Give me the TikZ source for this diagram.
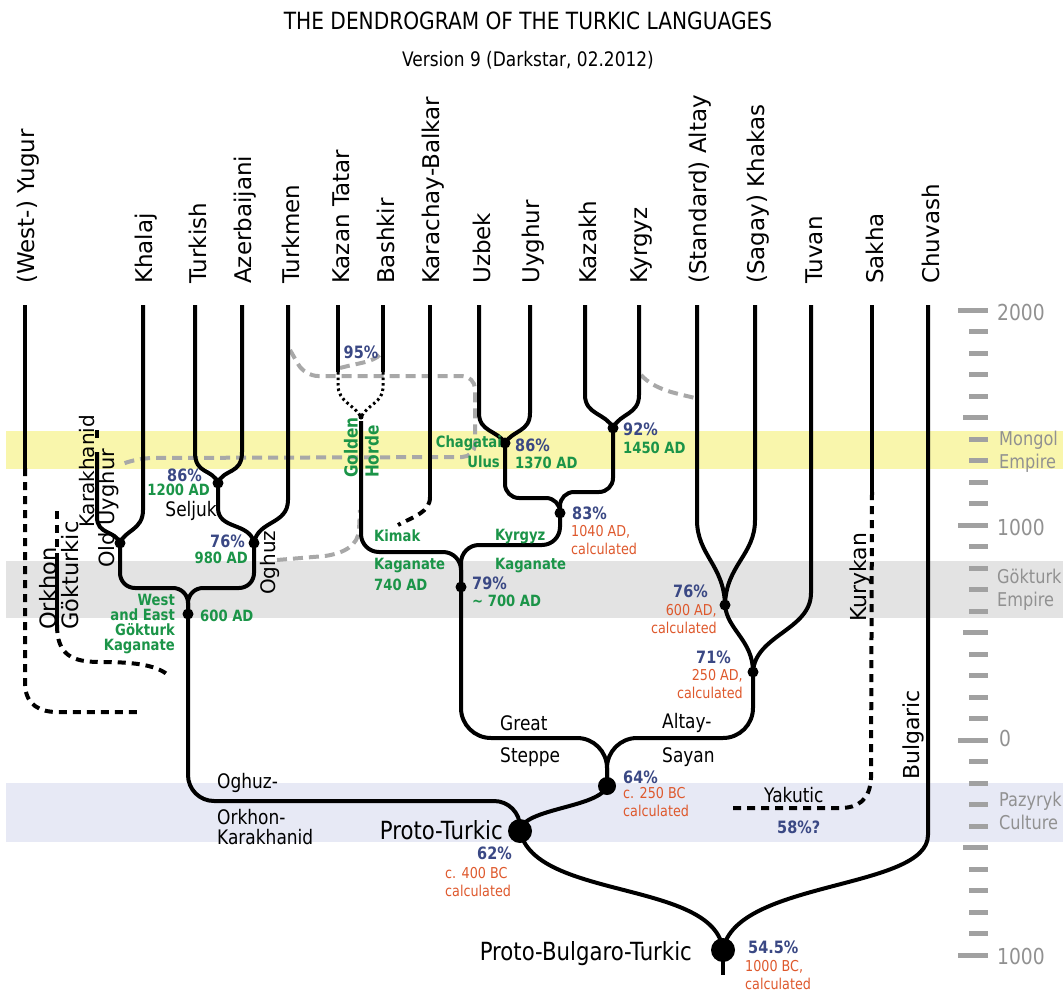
\documentclass[tikz,border=0pt]{standalone}
\usepackage{fontspec}
\setmainfont{DejaVu Sans}
\newfontfamily\narrowfont[FakeStretch=0.85]{DejaVu Sans}
\usepackage{tikz}
\usetikzlibrary{positioning,calc}
\definecolor{pctblue}{RGB}{58,72,132}
\definecolor{dategreen}{RGB}{27,148,72}
\definecolor{calcorange}{RGB}{222,88,44}
\definecolor{mongolyellow}{RGB}{249,246,172}
\definecolor{gokturkgray}{RGB}{227,227,227}
\definecolor{pazyrykblue}{RGB}{231,233,245}
\definecolor{contactgray}{RGB}{168,168,168}
\definecolor{scalegray}{RGB}{145,145,145}
\tikzset{
  lang/.style={rotate=90, anchor=west, inner sep=0pt, font=\fontsize{23}{23}\selectfont},
  sublang/.style={rotate=90, anchor=west, inner sep=0pt, font=\fontsize{22}{22}\selectfont},
  branch/.style={line width=4pt, black},
  lost/.style={line width=4pt, black, dash pattern=on 8pt off 6pt},
  horde/.style={line width=3pt, black, dash pattern=on 2.5pt off 3pt},
  contact/.style={line width=4pt, contactgray, dash pattern=on 10pt off 6pt},
  dot/.style={circle, fill=black, inner sep=0pt, minimum size=11pt},
  pct/.style={font=\narrowfont\bfseries\fontsize{17}{17}\selectfont, text=pctblue, inner sep=0pt},
  datelbl/.style={font=\narrowfont\bfseries\fontsize{15.5}{15}\selectfont, text=dategreen, inner sep=0pt},
  calcd/.style={font=\narrowfont\fontsize{15}{18}\selectfont, text=calcorange, inner sep=0pt, align=left},
  grouplbl/.style={font=\narrowfont\fontsize{20}{20}\selectfont, inner sep=0pt},
  protolbl/.style={font=\narrowfont\fontsize{25}{25}\selectfont, inner sep=0pt},
  eralbl/.style={font=\narrowfont\fontsize{19}{23}\selectfont, text=scalegray, inner sep=0pt, align=left, anchor=west},
  yearlbl/.style={font=\narrowfont\fontsize{22}{22}\selectfont, text=scalegray, inner sep=0pt, anchor=west},
  yeartick/.style={line width=5pt, scalegray!85}
}

\begin{document}
\begin{tikzpicture}[x=1pt, y=-1pt]
\useasboundingbox (0,0) rectangle (1063,996);
\fill[mongolyellow] (6,431) rectangle (1063,469);
\fill[gokturkgray] (6,561) rectangle (1063,618);
\fill[pazyrykblue] (6,783) rectangle (1063,842);

\foreach \i in {0,...,30}{
  \pgfmathsetmacro{\tl}{ifthenelse(mod(\i,10)==0,30,ifthenelse(mod(\i,5)==0,25,19))}
  \draw[yeartick] ({988-\tl},{310+21.5*\i}) -- ({988},{310+21.5*\i});
}
\node[yearlbl] (y2000) at (997,312) {2000};
\node[yearlbl] (y1000) at (997,527) {1000};
\node[yearlbl] (y0) at (999,738) {0};
\node[yearlbl] (ybc1000) at (997,956) {1000};
\node[eralbl] (mongol) at (999,451.5) {Mongol\\Empire};
\node[eralbl] (gokturkemp) at (997,590) {Gökturk\\Empire};
\node[eralbl] (pazyryk) at (999,811) {Pazyryk\\Culture};

\node[font=\narrowfont\fontsize{23.7}{24}\selectfont] (title) at (528,21) {THE DENDROGRAM OF THE TURKIC LANGUAGES};
\node[font=\narrowfont\fontsize{20}{20}\selectfont, below=14pt of title] (version) {Version 9 (Darkstar, 02.2012)};

\coordinate (yugur) at (25,305);
\coordinate (khalaj) at (143,305);
\coordinate (turkish) at (195,305);
\coordinate (azerbaijani) at (242,305);
\coordinate (turkmen) at (288,305);
\coordinate (kazantatar) at (338,305);
\coordinate (bashkir) at (383,305);
\coordinate (karachay) at (430,305);
\coordinate (uzbek) at (479,305);
\coordinate (uyghur) at (530,305);
\coordinate (kazakh) at (585,305);
\coordinate (kyrgyz) at (639,305);
\coordinate (altay) at (697,305);
\coordinate (khakas) at (755,305);
\coordinate (tuvan) at (811,305);
\coordinate (sakha) at (872,305);
\coordinate (chuvash) at (928,305);
\coordinate (karakhanid) at (97,452);
\coordinate (orkhon) at (57,511);
\coordinate (kimak) at (361,421);
\coordinate (pbtroot) at (723,975);

\node[lang] (lyugur) at (28,284) {(West-) Yugur};
\node[lang] (lkhalaj) at (146,284) {Khalaj};
\node[lang] (lturkish) at (198,284) {Turkish};
\node[lang] (lazerbaijani) at (245,284) {Azerbaijani};
\node[lang] (lturkmen) at (291,284) {Turkmen};
\node[lang] (lkazantatar) at (341,284) {Kazan Tatar};
\node[lang] (lbashkir) at (386,284) {Bashkir};
\node[lang] (lkarachay) at (433,284) {Karachay-Balkar};
\node[lang] (luzbek) at (482,284) {Uzbek};
\node[lang] (luyghur) at (533,284) {Uyghur};
\node[lang] (lkazakh) at (588,284) {Kazakh};
\node[lang] (lkyrgyz) at (642,284) {Kyrgyz};
\node[lang] (laltay) at (700,284) {(Standard) Altay};
\node[lang] (lkhakas) at (758,284) {(Sagay) Khakas};
\node[lang] (ltuvan) at (814,284) {Tuvan};
\node[lang] (lsakha) at (875,284) {Sakha};
\node[lang] (lchuvash) at (931,284) {Chuvash};

\node[dot] (seljuk) at (218,483) {};
\node[dot] (oghuz) at (254,543) {};
\node[dot] (olduyghur) at (120,543) {};
\node[dot] (gokturk) at (188,614) {};
\node[dot] (chagatai) at (505,443) {};
\node[dot] (kipchak) at (613,428) {};
\node[dot] (kyrgyzkag) at (560,513) {};
\node[dot] (kimakkag) at (461,587) {};
\node[dot] (sayan) at (725,605) {};
\node[dot] (altaysayan) at (753,672) {};
\node[dot, minimum size=18pt] (steppe) at (607,786) {};
\node[dot, minimum size=24pt] (proto) at (520,831) {};
\node[dot, minimum size=24pt] (pbt) at (723,950) {};
\node[dot, minimum size=5pt] (horde) at (361,417) {};

\coordinate (tkmcontact) at (290,350);
\coordinate (oucontact) at (122,464);
\coordinate (tatcontact) at (340,368);
\coordinate (bashcontact) at (383,350);
\coordinate (oghcontact) at (277,560);
\coordinate (kimcontact) at (360,510);
\coordinate (kyrcontact) at (641,375);
\coordinate (altcontact) at (695,398);
\draw[contact, rounded corners=13pt] (tkmcontact) -- (305,376) -- (475,376) -- (475,457) -- (140,458) -- (oucontact);
\draw[contact] (tatcontact) .. controls (362,362) and (378,362) .. (bashcontact);
\draw[contact] (oghcontact) -- (325,556) .. controls (345,553) and (358,545) .. (359,530) -- (kimcontact);
\draw[contact] (kyrcontact) .. controls (655,390) and (675,393) .. (altcontact);

\draw[branch] (turkish) -- (195,452) .. controls (195,475) and (212,468) .. (seljuk.center);
\draw[branch] (azerbaijani) -- (242,452) .. controls (242,475) and (224,468) .. (seljuk.center);
\draw[branch] (seljuk.center) -- (218,508) .. controls (218,530) and (250,522) .. (oghuz.center);
\draw[branch] (turkmen) -- (288,500) .. controls (288,525) and (258,520) .. (oghuz.center);
\draw[branch] (karakhanid) -- (97,517) .. controls (97,535) and (115,530) .. (olduyghur.center);
\draw[branch] (97,430) -- (97,438);
\draw[branch] (khalaj) -- (143,510) .. controls (143,530) and (125,530) .. (olduyghur.center);
\draw[branch, rounded corners=15pt] (olduyghur.center) |- (188,588) -- (gokturk.center);
\draw[branch, rounded corners=15pt] (oghuz.center) |- (188,588) -- (gokturk.center);
\draw[branch, rounded corners=26pt] (gokturk.center) |- (520,801) -- (proto.center);
\draw[branch] (proto.center) .. controls (522,808) and (600,808) .. (steppe.center);
\draw[branch, rounded corners=30pt] (kimakkag.center) |- (607,738) -- (steppe.center);
\draw[branch, rounded corners=30pt] (altaysayan.center) |- (607,738) -- (steppe.center);
\draw[branch] (proto.center) .. controls (535,900) and (715,880) .. (pbt.center);
\draw[branch] (chuvash) -- (928,835) .. controls (928,890) and (735,880) .. (pbt.center);
\draw[branch] (pbt.center) -- (pbtroot);

\draw[branch] (kazantatar) -- (338,372);
\draw[horde] (338,372) -- (338,385) .. controls (338,402) and (355,405) .. (horde.center);
\draw[branch] (bashkir) -- (383,372);
\draw[horde] (383,372) -- (383,388) .. controls (383,402) and (367,405) .. (horde.center);
\draw[branch, rounded corners=18pt] (kimak) |- (461,552) -- (kimakkag.center);
\draw[branch, rounded corners=18pt] (kyrgyzkag.center) |- (461,545) -- (kimakkag.center);
\draw[branch] (uzbek) -- (479,413) .. controls (479,432) and (497,430) .. (chagatai.center);
\draw[branch] (uyghur) -- (530,413) .. controls (530,432) and (513,430) .. (chagatai.center);
\draw[branch] (kazakh) -- (585,395) .. controls (585,415) and (606,413) .. (kipchak.center);
\draw[branch] (kyrgyz) -- (639,395) .. controls (639,415) and (620,413) .. (kipchak.center);
\draw[branch, rounded corners=14pt] (chagatai.center) |- (560,498) -- (kyrgyzkag.center);
\draw[branch, rounded corners=14pt] (kipchak.center) |- (560,492) -- (kyrgyzkag.center);

\draw[branch] (altay) -- (697,520) .. controls (697,555) and (724,565) .. (sayan.center);
\draw[branch] (khakas) -- (755,520) .. controls (755,555) and (726,565) .. (sayan.center);
\draw[branch] (sayan.center) .. controls (727,630) and (753,640) .. (altaysayan.center);
\draw[branch] (tuvan) -- (811,593) .. controls (811,630) and (755,635) .. (altaysayan.center);

\coordinate (yugurend) at (138,712);
\coordinate (orkhonend) at (168,675);
\coordinate (kimakend) at (398,525);
\coordinate (yakuticend) at (731,808);
\draw[branch] (yugur) -- (25,468);
\draw[lost] (25,468) -- (25,685) .. controls (26,705) and (40,712) .. (57,712) -- (yugurend);
\draw[lost] (orkhon) -- (57,555);
\draw[branch] (57,555) -- (57,625);
\draw[lost] (57,625) .. controls (57,655) and (72,662) .. (100,662) .. controls (130,662) and (155,664) .. (orkhonend);
\draw[branch] (karachay) -- (430,497);
\draw[lost] (430,497) .. controls (430,512) and (415,516) .. (kimakend);
\draw[branch] (sakha) -- (872,492);
\draw[lost] (872,492) -- (871,778) .. controls (870,800) and (858,808) .. (840,808) -- (yakuticend);

\node[sublang, font=\fontsize{20}{20}\selectfont] (lkarakhanid) at (87,528) {Karakhanid};
\node[sublang, font=\fontsize{21}{21}\selectfont] (lolduyghur) at (109,568) {Old Uyghur};
\node[sublang, font=\fontsize{20}{20}\selectfont] (loghuz) at (270,595) {Oghuz};
\node[sublang, font=\fontsize{22.5}{22.5}\selectfont] (lorkhon) at (48,630) {Orkhon};
\node[sublang, font=\fontsize{22.5}{22.5}\selectfont] (lgokturkic) at (70,630) {Gökturkic};
\node[sublang] (lkurykan) at (860,622) {Kurykan};
\node[sublang] (lbulgaric) at (913,780) {Bulgaric};
\node[datelbl, rotate=90, anchor=west, font=\narrowfont\bfseries\fontsize{18}{18}\selectfont] (lgolden) at (351,478) {Golden};
\node[datelbl, rotate=90, anchor=west, font=\narrowfont\bfseries\fontsize{18}{18}\selectfont] (lhorde) at (372,478) {Horde};

\node[pct, anchor=east] (p86s) at (202,475) {86\%};
\node[pct, anchor=east] (p76o) at (245,541) {76\%};
\node[pct] (p95) at (361,352) {95\%};
\node[pct, anchor=west] (p86c) at (515,445) {86\%};
\node[pct, anchor=west] (p92) at (623,429) {92\%};
\node[pct, anchor=west] (p83) at (572,513) {83\%};
\node[pct, anchor=west] (p79) at (472,583) {79\%};
\node[pct, anchor=east] (p76a) at (708,591) {76\%};
\node[pct, anchor=east] (p71) at (731,657) {71\%};
\node[pct, anchor=west] (p64) at (623,777) {64\%};
\node[pct, anchor=east] (p62) at (512,853) {62\%};
\node[pct, anchor=west] (p545) at (748,947) {54.5\%};
\node[pct, anchor=west] (p58) at (777,827) {58\%?};

\node[datelbl, anchor=east] (d1200) at (210,490) {1200 AD};
\node[datelbl, anchor=east] (d980) at (248,558) {980 AD};
\node[datelbl, anchor=east, align=right] (lwestgok) at (175,624.5) {West\\and East\\Gökturk\\Kaganate};
\node[datelbl, anchor=west] (d600) at (200,616) {600 AD};
\node[datelbl, anchor=east] (lchagatai) at (502,443) {Chagatai};
\node[datelbl, anchor=east] (lulus) at (500,462) {Ulus};
\node[datelbl, anchor=west] (d1370) at (515,463) {1370 AD};
\node[datelbl, anchor=west] (d1450) at (623,448) {1450 AD};
\node[datelbl, anchor=west] (lkimak) at (374,536) {Kimak};
\node[datelbl, anchor=west] (lkimakkag) at (374,566) {Kaganate};
\node[datelbl, anchor=west] (d740) at (374,585) {740 AD};
\node[datelbl, anchor=west] (lkyrgyzk) at (495,537) {Kyrgyz};
\node[datelbl, anchor=west] (lkyrgyzkag) at (495,566) {Kaganate};
\node[datelbl, anchor=west] (d700) at (472,601) {\textasciitilde\ 700 AD};

\node[calcd, anchor=west] (c1040) at (571,540.5) {1040 AD,\\calculated};
\node[calcd, anchor=east, align=right] (c600) at (717,619) {600 AD,\\calculated};
\node[calcd, anchor=east, align=right] (c250ad) at (743,684) {250 AD,\\calculated};
\node[calcd, anchor=west] (c250bc) at (623,802.5) {c. 250 BC\\calculated};
\node[calcd, anchor=west] (c400) at (445,882.5) {c. 400 BC\\calculated};
\node[calcd, anchor=west] (c1000) at (745,975.5) {1000 BC,\\calculated};

\node[grouplbl, anchor=east] (lseljuk) at (217,511) {Seljuk};
\node[grouplbl, anchor=west] (loghorkh) at (217,783) {Oghuz-};
\node[grouplbl, anchor=west, align=left] (lorkkar) at (217,827) {Orkhon-\\Karakhanid};
\node[grouplbl, anchor=west] (lgreat) at (500,723) {Great};
\node[grouplbl, anchor=west] (lsteppe) at (500,757) {Steppe};
\node[grouplbl, anchor=west] (laltaysay) at (662,723) {Altay-};
\node[grouplbl, anchor=west] (lsayan) at (662,757) {Sayan};
\node[grouplbl, anchor=west] (lyakutic) at (764,795) {Yakutic};
\node[protolbl, anchor=east] (lproto) at (503,830) {Proto-Turkic};
\node[protolbl, anchor=east] (lpbt) at (692,954) {Proto-Bulgaro-Turkic};
\end{tikzpicture}
\end{document}
